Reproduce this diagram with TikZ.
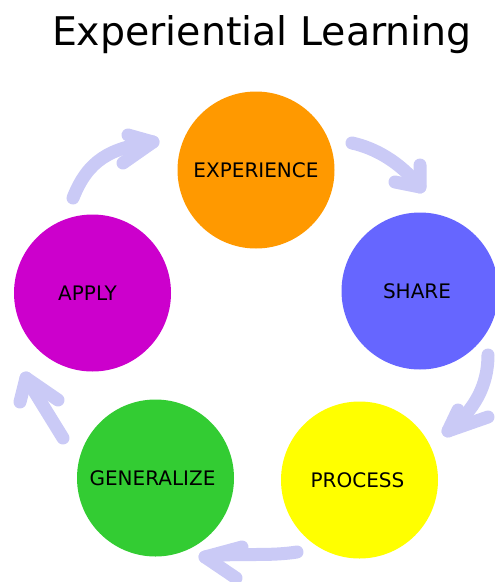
\documentclass[tikz,border=0pt]{standalone}
\usepackage{fontspec}
\setmainfont{DejaVu Sans}
\definecolor{arrowc}{HTML}{CACAF6}
\definecolor{cexp}{HTML}{FF9900}
\definecolor{cshare}{HTML}{6666FF}
\definecolor{cproc}{HTML}{FFFF00}
\definecolor{cgen}{HTML}{33CC33}
\definecolor{capp}{HTML}{CC00CC}
\tikzset{
  stage/.style={circle, minimum size=157pt, inner sep=0pt, font=\fontsize{20}{24}\selectfont, text=black},
  cyc/.style={draw=arrowc, line width=13pt, line cap=round, line join=round},
}
\begin{document}
\begin{tikzpicture}[x=1pt, y=-1pt]
\useasboundingbox (0,0) rectangle (495,582);
\node[font=\fontsize{39.5}{44}\selectfont, anchor=base] (title) at (262,45) {Experiential Learning};
\node[stage, fill=cexp] (exp) at (256,170) {\raisebox{-6pt}{EXPERIENCE}};
\node[stage, fill=cshare] (share) at (420,291) {\hspace*{-6pt}SHARE};
\node[stage, fill=cproc] (proc) at (359.5,480) {\hspace*{-4pt}PROCESS};
\node[stage, fill=cgen] (gen) at (155.5,478) {\hspace*{-6pt}GENERALIZE};
\node[stage, fill=capp] (app) at (92.5,293) {\hspace*{-10pt}APPLY};
% arrow coordinates
\coordinate (a1s) at (73,198);   \coordinate (a1t) at (153,142);
\coordinate (a1u) at (128,135);  \coordinate (a1l) at (123,163);
\coordinate (a2s) at (352,143);  \coordinate (a2t) at (420,187);
\coordinate (a2u) at (420,165);  \coordinate (a2l) at (395,182);
\coordinate (a3s) at (488,355);  \coordinate (a3t) at (448,431);
\coordinate (a3u) at (458,410);  \coordinate (a3l) at (488,417);
\coordinate (a4s) at (297,552);  \coordinate (a4t) at (205,557);
\coordinate (a4u) at (242,547);  \coordinate (a4l) at (236,578);
\coordinate (a5s) at (63,438);   \coordinate (a5t) at (26,378);
\coordinate (a5u) at (58,400);   \coordinate (a5l) at (20,402);
% arrows
\draw[cyc] (a1s) .. controls (88,160) and (110,148) .. (a1t);
\draw[cyc] (a1u) -- (a1t) -- (a1l);
\draw[cyc] (a2s) .. controls (375,148) and (400,162) .. (a2t);
\draw[cyc] (a2u) -- (a2t) -- (a2l);
\draw[cyc] (a3s) .. controls (488,385) and (475,410) .. (a3t);
\draw[cyc] (a3u) -- (a3t) -- (a3l);
\draw[cyc] (a4s) .. controls (265,557) and (235,552) .. (a4t);
\draw[cyc] (a4u) -- (a4t) -- (a4l);
\draw[cyc] (a5s) -- (a5t);
\draw[cyc] (a5u) -- (a5t) -- (a5l);
\end{tikzpicture}
\end{document}
